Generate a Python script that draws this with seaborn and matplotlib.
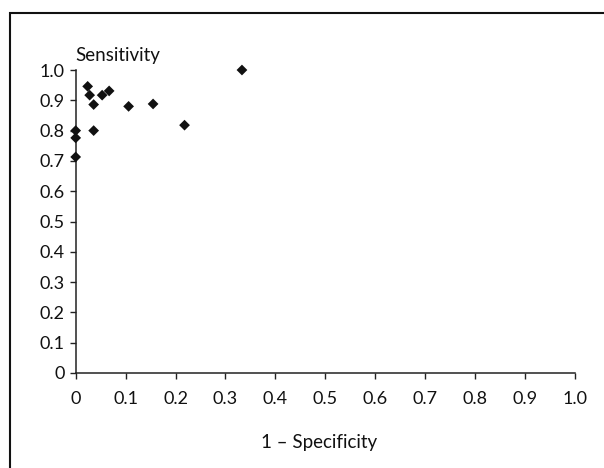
import matplotlib
matplotlib.use("Agg")
import matplotlib.pyplot as plt
import pandas as pd
import seaborn as sns
from matplotlib.patches import Rectangle

# 1 - specificity and sensitivity of each study
false_pos_rate = [0.333, 0.024, 0.028, 0.036, 0.053, 0.067, 0.106, 0.155, 0.218, 0.036, 0.0, 0.0, 0.0]
sensitivity = [1.0, 0.946, 0.917, 0.886, 0.917, 0.931, 0.880, 0.888, 0.818, 0.800, 0.800, 0.776, 0.713]
tick_values = [0, 0.1, 0.2, 0.3, 0.4, 0.5, 0.6, 0.7, 0.8, 0.9, 1.0]
tick_labels = ["0", "0.1", "0.2", "0.3", "0.4", "0.5", "0.6", "0.7", "0.8", "0.9", "1.0"]

df = pd.DataFrame({"fpr": false_pos_rate, "sens": sensitivity})

sns.set_style("white")
plt.rcParams["font.family"] = ["Lato", "DejaVu Sans"]

fig = plt.figure(figsize=(6.04, 4.68), dpi=100)
ax = fig.add_axes([0.1253, 0.2030, 0.8267, 0.6474])

sns.scatterplot(data=df, x="fpr", y="sens", marker="D", s=30, color="#111111",
                edgecolor="none", ax=ax, clip_on=False, zorder=3)

ax.set_xlim(0, 1.0)
ax.set_ylim(0, 1.0)
ax.set_xticks(tick_values)
ax.set_xticklabels(tick_labels)
ax.set_yticks(tick_values)
ax.set_yticklabels(tick_labels)
ax.tick_params(axis="both", direction="out", length=4, width=1, color="#222222",
               labelsize=13, labelcolor="#111111", pad=4, bottom=True, left=True)
ax.tick_params(axis="x", pad=9)

sns.despine(ax=ax)
for side in ["left", "bottom"]:
    ax.spines[side].set_color("#222222")
    ax.spines[side].set_linewidth(1.1)

ax.set_xlabel("1 – Specificity", fontsize=13.5, color="#111111")
ax.xaxis.set_label_coords(0.487, -0.2)
ax.set_ylabel("")
ax.text(0.0, 1.02, "Sensitivity", transform=ax.transAxes, fontsize=13.5,
        color="#111111", ha="left", va="bottom")

# outer frame (top and left edges only visible)
fig.patches.append(Rectangle((10 / 604, -0.2), 1.2, 1.2 - 13 / 468,
                             transform=fig.transFigure, fill=False,
                             edgecolor="#111111", linewidth=1.5))

fig.savefig("out.png", dpi=100)
